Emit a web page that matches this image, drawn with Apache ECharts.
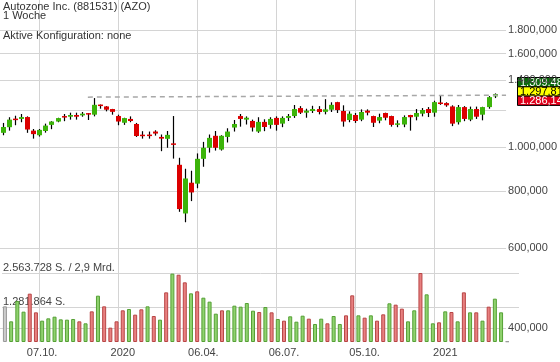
<!DOCTYPE html>
<html><head><meta charset="utf-8">
<script src="https://cdn.jsdelivr.net/npm/echarts@6/dist/echarts.min.js"></script>
<style>html,body{margin:0;padding:0;background:#fff}#c{width:560px;height:362px}</style>
</head><body><div id="c"></div>
<script>
// ---- data (weekly candles, first week 2019-08-26) ----
const firstWeek = '2019-08-26';
const openP  = [1073,1104,1150,1151,1162,1085,1060,1083,1117,1136, 1166,1164,1174,1172,1182,1176,1236,1226,1210,1168,
                1129,1151,1122,1060,1061,1080,1051,1041,1015,913, 714,834,830,941,995,1057,986,1051,1102,1168,
                1147,1139,1080,1134,1117,1157,1124,1157,1168,1216, 1188,1198,1210,1193,1206,1253,1198,1145,1174,1147,
                1200,1168,1141,1186,1168,1119,1119,1174,1164,1182, 1210,1188,1249,1247,1226,1132,1222,1147,1210,1176,
                1222,1290];
const highP  = [1128,1161,1170,1180,1166,1094,1094,1124,1138,1158, 1180,1188,1188,1192,1186,1279,1238,1228,1211,1176,
                1158,1166,1128,1082,1080,1087,1064,1083,1168,946, 895,886,967,1025,1064,1083,1060,1098,1145,1180,
                1166,1147,1161,1149,1161,1166,1166,1180,1235,1228, 1212,1230,1228,1272,1252,1255,1233,1196,1186,1208,
                1208,1170,1182,1188,1170,1143,1172,1175,1210,1216, 1222,1262,1296,1252,1233,1235,1228,1225,1225,1224,
                1292,1309.48];
const lowP   = [1060,1085,1115,1132,1073,1042,1053,1074,1093,1132, 1138,1147,1147,1164,1145,1166,1212,1196,1176,1115,
                1117,1132,1051,1042,1042,1058,978,995,942,720, 683,760,811,904,971,981,981,1022,1080,1107,
                1119,1080,1073,1082,1096,1085,1104,1139,1157,1180, 1158,1186,1178,1178,1192,1186,1107,1132,1128,1138,
                1172,1105,1126,1143,1107,1104,1104,1085,1143,1166, 1162,1164,1236,1224,1110,1119,1138,1138,1151,1143,
                1212,1279];
const closeP = [1105,1147,1147,1162,1091,1066,1089,1113,1136,1156, 1161,1174,1164,1182,1180,1236,1230,1206,1193,1136,
                1156,1139,1056,1058,1058,1069,1042,1062,1012,730, 852,794,941,995,1046,995,1057,1080,1122,1151,
                1158,1102,1134,1105,1151,1117,1157,1168,1210,1188, 1200,1210,1192,1208,1236,1204,1136,1182,1139,1192,
                1188,1129,1162,1158,1117,1124,1162,1161,1186,1204, 1186,1253,1243,1233,1124,1222,1151,1210,1164,1222,
                1285,1305];
const volume = [1325000,768000,1523000,1127000,1796000,1102000,793000,879000,941000,842000,
                830000,855000,768000,694000,1139000,1721000,1325000,533000,768000,1177000,
                1226000,1016000,1214000,1325000,966000,830000,1845000,2540000,2500000,2217000,
                1808000,1883000,1647000,1499000,1053000,1177000,1177000,1350000,1313000,1449000,
                1164000,1115000,1300000,1102000,855000,793000,954000,755000,978000,867000,
                669000,867000,694000,966000,669000,991000,1734000,991000,904000,991000,
                793000,1028000,1437000,1387000,1239000,768000,1177000,2563728,1771000,694000,
                731000,1139000,1115000,768000,1845000,1102000,1102000,793000,1313000,1610000,
                1102000,25000];
const volDir = ['n','u','u','u','d','d','u','u','u','u', 'u','u','d','u','d','u','d','d','d','d',
                'u','d','d','u','d','u','d','u','d','d', 'u','d','u','u','u','d','u','u','u','u',
                'u','d','u','d','u','d','u','u','u','d', 'u','u','d','u','u','d','d','u','d','u',
                'd','d','u','d','d','u','u','d','u','u', 'd','u','d','u','d','u','d','u','d','u',
                'u','n'];
const xTickIdx    = [6, 19, 32, 45, 58, 71];
const xTickLabels = ['07.10.', '2020', '06.04.', '06.07.', '05.10.', '2021'];
const priceTicks      = [400, 600, 800, 1000, 1200, 1400, 1600, 1800];
const priceLabelTicks = [400, 600, 800, 1000, 1400, 1600, 1800];
const volMax = 2563728;
const volTurnover = '2,9 Mrd.';
const trendLine = [[14, 1285], [82.89, 1297.81]];
const quoteTags = [
  {text: '1.309,48', bg: '#0b6b0b', fg: '#ffffff'},
  {text: '1.297,81', bg: '#ffff00', fg: '#000000'},
  {text: '1.286,14', bg: '#e0001b', fg: '#ffffff'}
];
const titleLines = ['Autozone Inc. (881531) (AZO)', '1 Woche', 'Aktive Konfiguration: none'];

// ---- helpers ----
function de(n, dec) {
  const s = n.toFixed(dec);
  let parts = s.split('.');
  let int = parts[0].replace(/\B(?=(\d{3})+(?!\d))/g, '.');
  return parts[1] ? int + ',' + parts[1] : int;
}
const FONT = 'Liberation Sans, Arial, sans-serif';
const GREEN = '#3cb40a', RED = '#dc0000';
const volFill = {u: '#8fd26e', d: '#e88080', n: '#cccccc'};
const volStroke = {u: '#55a035', d: '#b84545', n: '#999999'};
const XMIN = -0.472, XMAX = 82.89;
const gridColor = '#d4d4d4';

const candleData = openP.map((o, i) => [i, o, closeP[i], lowP[i], highP[i]]);
const volData = volume.map((v, i) => ({
  value: [i, v],
  itemStyle: {color: volFill[volDir[i]], borderColor: volStroke[volDir[i]], borderWidth: 1}
}));

const chart = echarts.init(document.getElementById('c'), null, {renderer: 'canvas'});
chart.setOption({
  animation: false,
  backgroundColor: '#ffffff',
  textStyle: {fontFamily: FONT},
  grid: [
    {left: 0, right: 41, top: 0, bottom: 20},
    {left: 0, right: 41, top: 273, bottom: 20}
  ],
  xAxis: [
    {gridIndex: 0, type: 'value', min: XMIN, max: XMAX,
     axisLine: {show: false}, axisTick: {show: false, customValues: xTickIdx},
     axisLabel: {show: false},
     splitLine: {show: true, lineStyle: {color: gridColor, width: 1}}},
    {gridIndex: 1, type: 'value', min: XMIN, max: XMAX,
     axisLine: {show: false}, axisTick: {show: false, customValues: xTickIdx},
     axisLabel: {show: true, customValues: xTickIdx, margin: 5, fontSize: 11, color: '#444', fontFamily: FONT,
       formatter: v => { const k = xTickIdx.indexOf(Math.round(v)); return k >= 0 ? xTickLabels[k] : ''; }},
     splitLine: {show: false}}
  ],
  yAxis: [
    {gridIndex: 0, type: 'log', position: 'right', min: 373, max: 2099,
     axisLine: {show: false}, axisTick: {show: false, customValues: priceTicks},
     axisLabel: {show: true, customValues: priceLabelTicks, margin: 2, fontSize: 11, color: '#444', fontFamily: FONT,
       formatter: v => de(v, 3)},
     splitLine: {show: true, lineStyle: {color: gridColor, width: 1}}},
    {gridIndex: 1, type: 'value', position: 'left', min: 0, max: volMax,
     axisLine: {show: false}, axisTick: {show: false, customValues: [volMax / 2, volMax]},
     axisLabel: {show: true, inside: true, customValues: [volMax / 2, volMax], margin: 1,
       fontSize: 11, color: '#444', fontFamily: FONT, verticalAlign: 'bottom', align: 'left',
       formatter: v => v >= volMax ? de(volMax, 0) + ' S. / ' + volTurnover : de(v, 0) + ' S.'},
     splitLine: {show: true, lineStyle: {color: gridColor, width: 1}}}
  ],
  series: [
    {type: 'bar', xAxisIndex: 1, yAxisIndex: 1, data: volData, barWidth: 4, z: 2},
    {type: 'custom', xAxisIndex: 0, yAxisIndex: 0, data: candleData, z: 3,
     encode: {x: 0, y: [1, 2, 3, 4]},
     renderItem: function (params, api) {
       const i = api.value(0), o = api.value(1), c = api.value(2), l = api.value(3), h = api.value(4);
       const pO = api.coord([i, o]), pC = api.coord([i, c]), pL = api.coord([i, l]), pH = api.coord([i, h]);
       const x = Math.round(pO[0]);
       let top = Math.min(pO[1], pC[1]), bot = Math.max(pO[1], pC[1]);
       if (bot - top < 1.5) { const m = (top + bot) / 2; top = m - 0.75; bot = m + 0.75; }
       const up = c > o;
       return {type: 'group', children: [
         {type: 'line', shape: {x1: x + 0.5, y1: pH[1], x2: x + 0.5, y2: pL[1]}, style: {stroke: '#000', lineWidth: 1.2}},
         {type: 'rect', shape: {x: x - 2, y: top, width: 5, height: bot - top}, style: {fill: up ? GREEN : RED}}
       ]};
     },
     markLine: {silent: true, symbol: ['none', 'none'], label: {show: false},
       lineStyle: {color: '#a8a8a8', type: [5, 4], width: 1.5},
       data: [[{coord: trendLine[0]}, {coord: trendLine[1]}]]}
    }
  ],
  graphic: [
    {type: 'text', left: 3, top: 1, z: 50, style: {text: titleLines[0], font: '11px ' + FONT, fill: '#333'}},
    {type: 'text', left: 3, top: 10.5, z: 50, style: {text: titleLines[1], font: '11px ' + FONT, fill: '#333'}},
    {type: 'text', left: 3, top: 30.5, z: 50, style: {text: titleLines[2], font: '11px ' + FONT, fill: '#333'}}
  ].concat(quoteTags.map((t, k) => ({
    type: 'group', x: 517.5, y: 77.5 + k * 9.3, z: 100, children: [
      {type: 'rect', shape: {x: 0, y: 0, width: 45, height: 9.3}, style: {fill: t.bg, stroke: '#000', lineWidth: 1}},
      {type: 'text', x: 2.5, y: 5, style: {text: t.text, font: '11px ' + FONT, fill: t.fg, verticalAlign: 'middle'}}
    ]
  })))
});
</script></body></html>
